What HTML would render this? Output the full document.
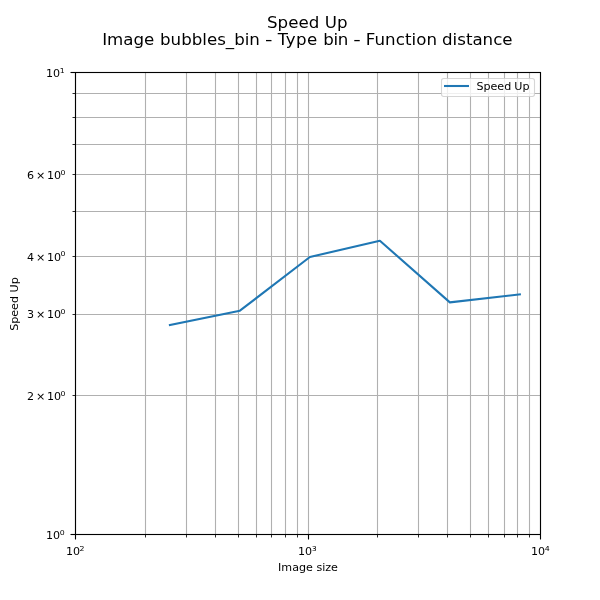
<!DOCTYPE html>
<html lang="en"><head><meta charset="utf-8"><title>Speed Up</title>
<style>html,body{margin:0;padding:0;background:#fff}svg{display:block}text{font-family:"DejaVu Sans","Liberation Sans",sans-serif;fill:#000}.g{stroke:#b0b0b0;stroke-width:1.11;fill:none}.k{stroke:#000;stroke-width:1.11;fill:none}.m{stroke:#000;stroke-width:0.83;fill:none}</style></head><body>
<svg width="600" height="600" viewBox="0 0 600 600">
<rect width="600" height="600" fill="#fff"/>
<g class="g">
<path d="M75.5 72.5V534.5"/>
<path d="M145.5 72.5V534.5"/>
<path d="M186.5 72.5V534.5"/>
<path d="M215.5 72.5V534.5"/>
<path d="M238.5 72.5V534.5"/>
<path d="M256.5 72.5V534.5"/>
<path d="M271.5 72.5V534.5"/>
<path d="M285.5 72.5V534.5"/>
<path d="M297.5 72.5V534.5"/>
<path d="M308.5 72.5V534.5"/>
<path d="M377.5 72.5V534.5"/>
<path d="M418.5 72.5V534.5"/>
<path d="M447.5 72.5V534.5"/>
<path d="M470.5 72.5V534.5"/>
<path d="M488.5 72.5V534.5"/>
<path d="M504.5 72.5V534.5"/>
<path d="M517.5 72.5V534.5"/>
<path d="M529.5 72.5V534.5"/>
<path d="M540.5 72.5V534.5"/>
<path d="M75.5 534.5H540.5"/>
<path d="M75.5 395.5H540.5"/>
<path d="M75.5 314.5H540.5"/>
<path d="M75.5 256.5H540.5"/>
<path d="M75.5 211.5H540.5"/>
<path d="M75.5 174.5H540.5"/>
<path d="M75.5 144.5H540.5"/>
<path d="M75.5 117.5H540.5"/>
<path d="M75.5 93.5H540.5"/>
<path d="M75.5 72.5H540.5"/>
</g>
<g class="k">
<path d="M75.5 534.5v5.0"/>
<path d="M308.5 534.5v5.0"/>
<path d="M540.5 534.5v5.0"/>
<path d="M75.5 534.5h-5.0"/>
<path d="M75.5 72.5h-5.0"/>
</g>
<g class="m">
<path d="M145.5 534.5v2.97"/>
<path d="M186.5 534.5v2.97"/>
<path d="M215.5 534.5v2.97"/>
<path d="M238.5 534.5v2.97"/>
<path d="M256.5 534.5v2.97"/>
<path d="M271.5 534.5v2.97"/>
<path d="M285.5 534.5v2.97"/>
<path d="M297.5 534.5v2.97"/>
<path d="M377.5 534.5v2.97"/>
<path d="M418.5 534.5v2.97"/>
<path d="M447.5 534.5v2.97"/>
<path d="M470.5 534.5v2.97"/>
<path d="M488.5 534.5v2.97"/>
<path d="M504.5 534.5v2.97"/>
<path d="M517.5 534.5v2.97"/>
<path d="M529.5 534.5v2.97"/>
<path d="M75.5 395.5h-2.97"/>
<path d="M75.5 314.5h-2.97"/>
<path d="M75.5 256.5h-2.97"/>
<path d="M75.5 211.5h-2.97"/>
<path d="M75.5 174.5h-2.97"/>
<path d="M75.5 144.5h-2.97"/>
<path d="M75.5 117.5h-2.97"/>
<path d="M75.5 93.5h-2.97"/>
</g>
<polyline points="169.92,324.98 239.91,310.65 309.89,257.00 379.88,240.73 449.87,302.40 519.86,294.30" fill="none" stroke="#1f77b4" stroke-width="2.08" stroke-linejoin="round" stroke-linecap="square"/>
<rect class="k" x="75.5" y="72.5" width="465.0" height="462.0" stroke-linejoin="miter"/>
<text x="45.96" y="77.00" font-size="11.11">10</text><text transform="translate(59.66 72.80) scale(1.15 1)" font-size="6.80">1</text>
<text x="45.96" y="539.00" font-size="11.11">10</text><text transform="translate(59.66 534.80) scale(1.15 1)" font-size="6.80">0</text>
<text y="399.62" font-size="11.11"><tspan x="27.08">2</tspan><tspan x="36.05">×</tspan><tspan x="46.91">10</tspan></text><text transform="translate(60.60 396.12) scale(1.15 1)" font-size="6.80">0</text>
<text y="318.27" font-size="11.11"><tspan x="27.08">3</tspan><tspan x="36.05">×</tspan><tspan x="46.91">10</tspan></text><text transform="translate(60.60 314.07) scale(1.15 1)" font-size="6.80">0</text>
<text y="260.55" font-size="11.11"><tspan x="27.08">4</tspan><tspan x="36.05">×</tspan><tspan x="46.91">10</tspan></text><text transform="translate(60.60 256.35) scale(1.15 1)" font-size="6.80">0</text>
<text y="179.19" font-size="11.11"><tspan x="27.08">6</tspan><tspan x="36.05">×</tspan><tspan x="46.91">10</tspan></text><text transform="translate(60.60 174.99) scale(1.15 1)" font-size="6.80">0</text>
<text x="65.90" y="554.70" font-size="11.11">10</text><text transform="translate(79.60 550.50) scale(1.15 1)" font-size="6.80">2</text>
<text x="298.03" y="554.70" font-size="11.11">10</text><text transform="translate(311.73 550.50) scale(1.15 1)" font-size="6.80">3</text>
<text x="530.93" y="554.70" font-size="11.11">10</text><text transform="translate(544.63 550.50) scale(1.15 1)" font-size="6.80">4</text>
<text x="308.0" y="570.5" font-size="11.11" text-anchor="middle">Image size</text>
<text transform="translate(17.55 304.05) rotate(-90)" font-size="11.11" text-anchor="middle">Speed Up</text>
<text x="267.0" y="27.7" font-size="16.67"><tspan>Speed</tspan><tspan x="324.7">Up</tspan></text>
<text y="44.5" font-size="16.67"><tspan x="102.20">Image</tspan><tspan x="160.00">bubbles_bin</tspan><tspan x="277.80" letter-spacing="0.40">Type</tspan><tspan x="323.20" letter-spacing="-0.30">bin</tspan><tspan x="365.80" letter-spacing="0.05">Function</tspan><tspan x="442.00">distance</tspan></text>
<text transform="translate(264.90 44.5) scale(1.25 1)" font-size="16.67">-</text>
<text transform="translate(353.20 44.5) scale(1.25 1)" font-size="16.67">-</text>
<rect x="441.5" y="78.5" width="93" height="18" rx="2.2" ry="2.2" fill="#fff" fill-opacity="0.8" stroke="#ccc" stroke-opacity="0.8" stroke-width="1.11"/>
<path d="M444 86H469" stroke="#1f77b4" stroke-width="2.08" fill="none"/>
<text x="476.4" y="89.9" font-size="11.11">Speed <tspan x="514.35">Up</tspan></text>
</svg></body></html>
